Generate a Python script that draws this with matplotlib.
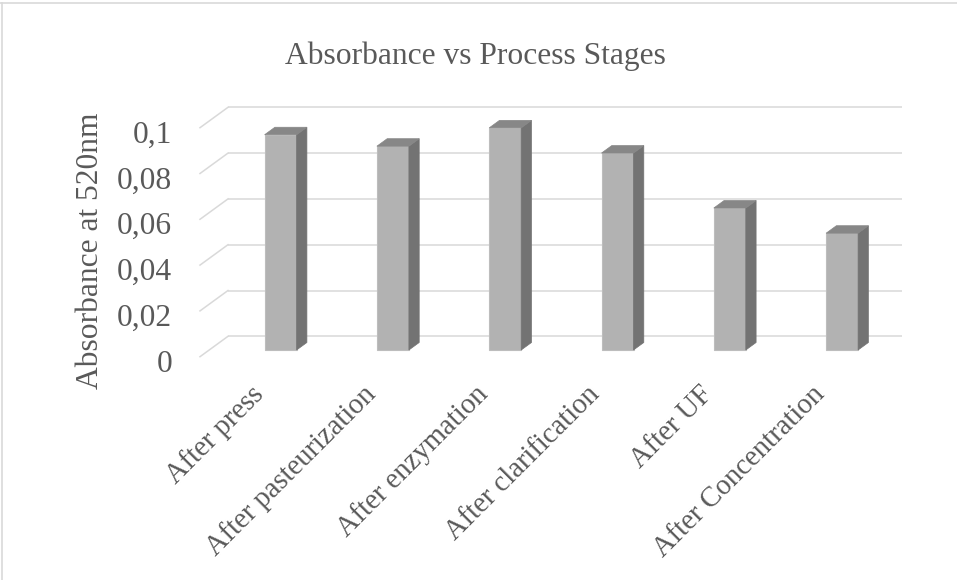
import numpy as np
import matplotlib
matplotlib.use("Agg")
import matplotlib.pyplot as plt
from matplotlib.patches import Polygon

# --- data ---
stages = ["After press", "After pasteurization", "After enzymation",
          "After clarification", "After UF", "After Concentration"]
absorbance = [0.094, 0.089, 0.097, 0.086, 0.062, 0.051]
y_ticks = [0, 0.02, 0.04, 0.06, 0.08, 0.1]
y_tick_labels = ["0", "0,02", "0,04", "0,06", "0,08", "0,1"]

# --- styling ---
W, H = 957, 580
txt_col = "#595959"
grid_col = "#d9d9d9"
font = "Liberation Serif"
plt.rcParams["font.family"] = [font, "DejaVu Serif"]

# pixel frame of the back wall (used only to place the axes)
px_x0, px_cat = 228.0, 112.3      # back wall left edge, px per category
px_y0, px_unit = 336.3, 2290.0    # zero line of back wall, px per absorbance unit

def to_x(px):
    return (px - px_x0) / px_cat

def to_y(py):
    return (px_y0 - py) / px_unit

fig = plt.figure(figsize=(W / 100, H / 100), dpi=100)
ax_l, ax_r, ax_t, ax_b = 150, 930, 90, 400
ax = fig.add_axes([ax_l / W, (H - ax_b) / H, (ax_r - ax_l) / W, (ax_b - ax_t) / H])
ax.set_xlim(to_x(ax_l), to_x(ax_r))
ax.set_ylim(to_y(ax_b), to_y(ax_t))
ax.axis("off")

n = len(stages)
# oblique depth of the floor, and of each bar
floor_dx, floor_dy = -28 / px_cat, -20.4 / px_unit
bar_dx, bar_dy = 10.3 / px_cat, 7.5 / px_unit
bar_left = 36.6 / px_cat
bar_w = 32 / px_cat
bar_base = to_y(350)

# gridlines: back wall + left side wall diagonals
for v, lab in zip(y_ticks, y_tick_labels):
    ax.plot([0, n], [v, v], color=grid_col, lw=1.1, zorder=1, solid_capstyle="butt")
    ax.plot([floor_dx, 0], [v + floor_dy, v], color=grid_col, lw=1.1, zorder=1)
    ax.text(floor_dx - 28 / px_cat, v + floor_dy - 7.5 / px_unit, lab,
            ha="right", va="center", fontsize=22.7, color=txt_col)

# bars: front face through ax.bar, side and top as polygons
xs = np.arange(n) + bar_left
ax.bar(xs, absorbance, width=bar_w, bottom=bar_base, align="edge",
       color="#b2b2b2", edgecolor="#bdbdbd", linewidth=0.8, zorder=3)
for x, v in zip(xs, absorbance):
    top = bar_base + v
    side = [(x + bar_w, bar_base), (x + bar_w + bar_dx, bar_base + bar_dy),
            (x + bar_w + bar_dx, top + bar_dy), (x + bar_w, top)]
    cap = [(x, top), (x + bar_dx, top + bar_dy),
           (x + bar_w + bar_dx, top + bar_dy), (x + bar_w, top)]
    ax.add_patch(Polygon(side, closed=True, facecolor="#737373", edgecolor="#737373",
                         lw=0.5, zorder=3))
    ax.add_patch(Polygon(cap, closed=True, facecolor="#878787", edgecolor="#878787",
                         lw=0.5, zorder=3))

# category labels, rotated 45 degrees
for i, lab in enumerate(stages):
    ax.text(i + 0.5 - 25 / px_cat, to_y(390), lab, rotation=45,
            rotation_mode="anchor", ha="right", va="center",
            fontsize=20.6, color=txt_col, clip_on=False)

# title and axis label in figure pixels
fig.text(475.5 / W, 1 - 64 / H, "Absorbance vs Process Stages", ha="center",
         va="baseline", fontsize=22.7, color=txt_col)
fig.text(91 / W, 1 - 251 / H, "Absorbance at 520nm", rotation=90, ha="center",
         va="center", fontsize=22.7, color=txt_col)

# chart area border (only top and left show in the crop)
fig.add_artist(plt.Line2D([0, 1], [1 - 3.3 / H, 1 - 3.3 / H], color=grid_col, lw=1.2))
fig.add_artist(plt.Line2D([2 / W, 2 / W], [0, 1 - 3.3 / H], color=grid_col, lw=1.2))

fig.savefig("out.png", dpi=100, facecolor="white")
